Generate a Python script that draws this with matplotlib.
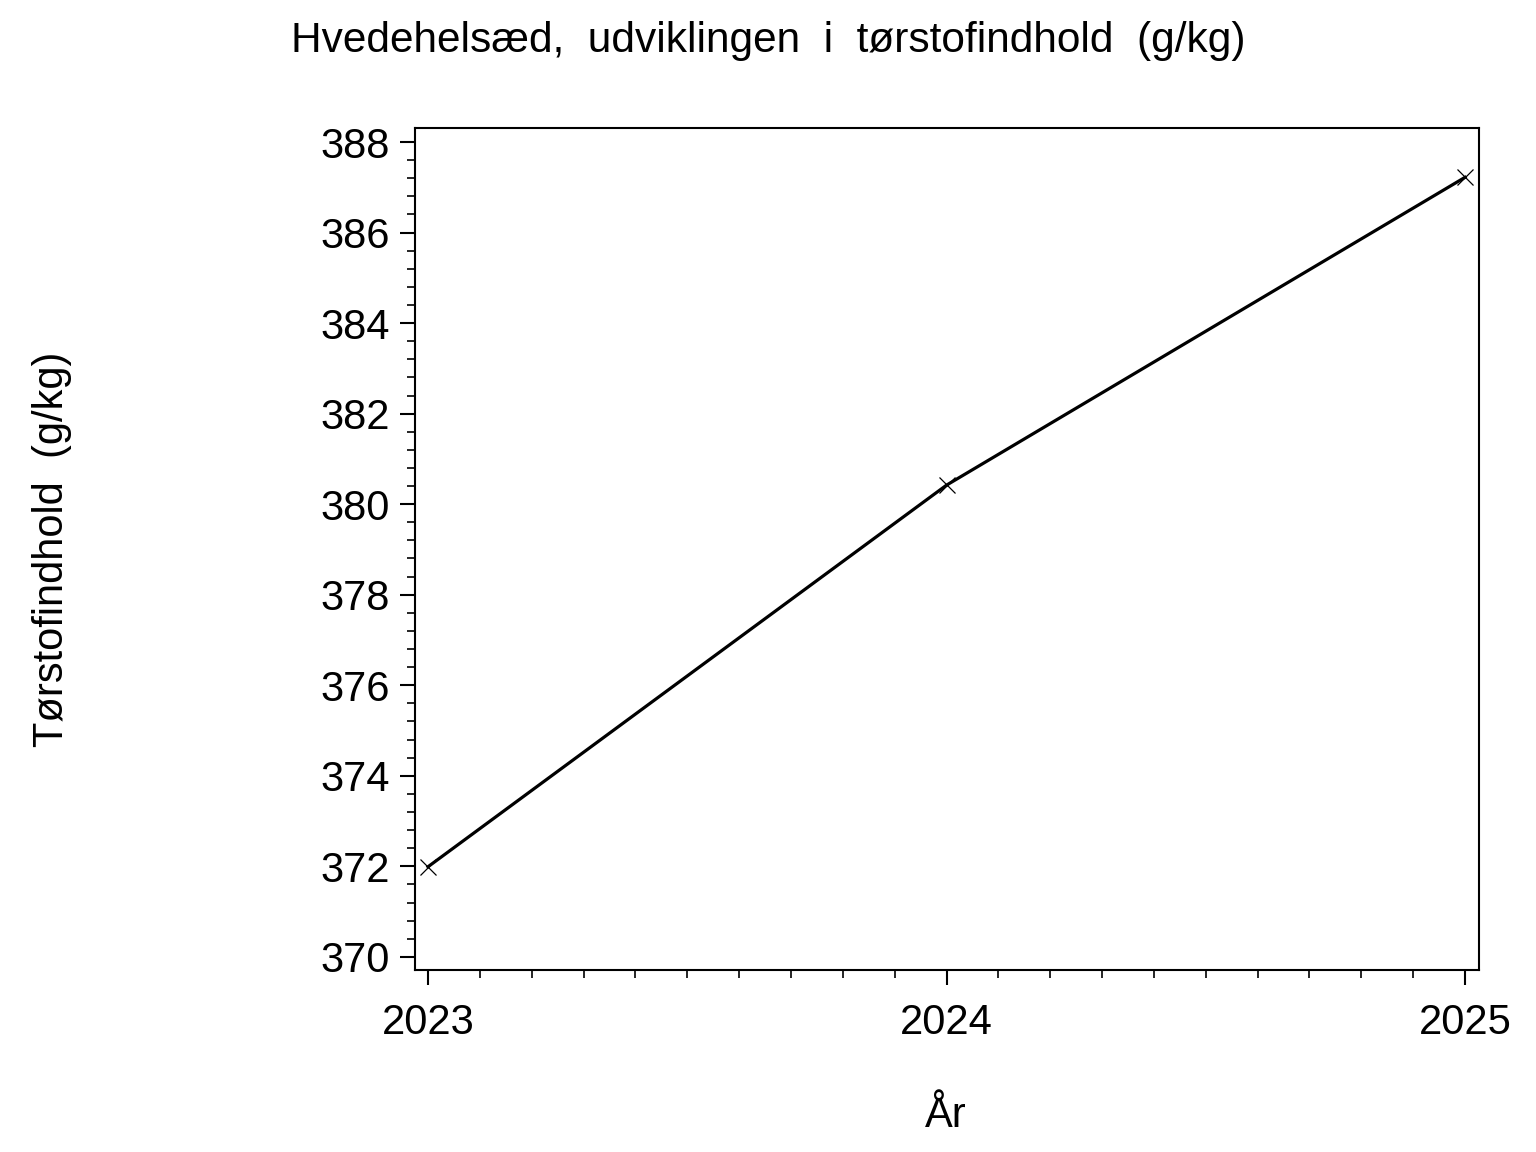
import numpy as np
import matplotlib
matplotlib.use('Agg')
import matplotlib.pyplot as plt
from matplotlib.ticker import MultipleLocator, FormatStrFormatter

# Data
years = [2023, 2024, 2025]
dry_matter = [371.99, 380.42, 387.22]

title = 'Hvedehelsæd,  udviklingen  i  tørstofindhold  (g/kg)'
ylabel = 'Tørstofindhold  (g/kg)'
xlabel = 'År'

plt.rcParams['font.family'] = ['Liberation Sans', 'DejaVu Sans']

fig = plt.figure(figsize=(15.36, 11.52), dpi=100)
ax = fig.add_axes([0.2702, 0.158, 0.6927, 0.7309])

ax.plot(years, dry_matter, color='black', linewidth=2.3)
ax.plot(years, dry_matter, linestyle='none', marker='x', markersize=12,
        markeredgewidth=0.9, color='black')

ax.set_xlim(2022.975, 2025.027)
ax.set_ylim(369.71, 388.31)
ax.xaxis.set_major_locator(MultipleLocator(1))
ax.xaxis.set_minor_locator(MultipleLocator(0.1))
ax.yaxis.set_major_locator(MultipleLocator(2))
ax.yaxis.set_minor_locator(MultipleLocator(0.4))
ax.xaxis.set_major_formatter(FormatStrFormatter('%d'))

ax.tick_params(which='major', length=11, width=1.5, labelsize=30)
ax.tick_params(which='minor', length=6, width=1.2)
ax.tick_params(axis='y', which='major', pad=7)
ax.tick_params(axis='x', which='major', pad=13)
for s in ax.spines.values():
    s.set_linewidth(1.5)

ax.set_xlabel(xlabel, fontsize=30, va='baseline')
ax.xaxis.set_label_coords(0.499, -0.1865)
ax.set_ylabel(ylabel, fontsize=30, va='baseline')
ax.yaxis.set_label_coords(-0.331, 0.5)
fig.suptitle(title, fontsize=30.5, x=0.5, y=1 - 52 / 1152, va='baseline')

fig.savefig('out.png', dpi=100)
